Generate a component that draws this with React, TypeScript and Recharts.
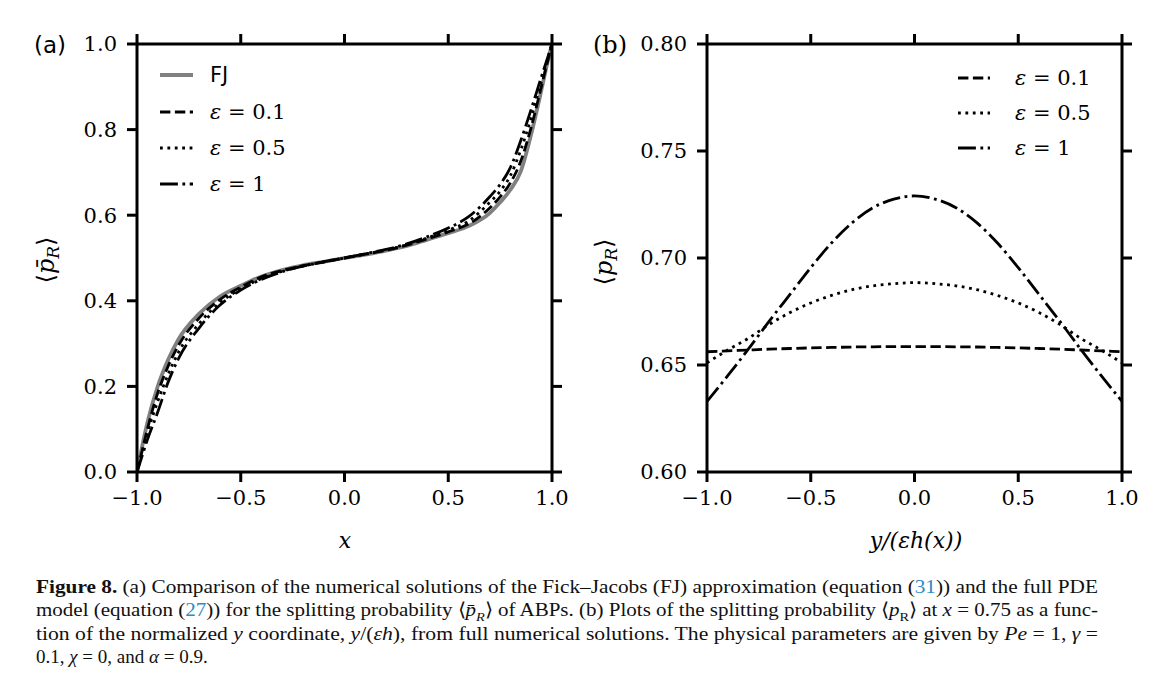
import { LineChart, Line, XAxis, YAxis, Legend } from "recharts";

// panel (a): splitting probability vs x
const xA = [-1, -0.975, -0.95, -0.9, -0.85, -0.8, -0.7, -0.6, -0.5, -0.4, -0.3, -0.2, -0.1, 0, 0.1, 0.2, 0.3, 0.4, 0.5, 0.6, 0.7, 0.75, 0.8, 0.85, 0.9, 0.95, 0.975, 1];
const fjA = [0, 0.06, 0.115, 0.2, 0.262, 0.31, 0.37, 0.41, 0.435, 0.457, 0.472, 0.483, 0.491, 0.5, 0.508, 0.517, 0.528, 0.543, 0.558, 0.575, 0.605, 0.63, 0.66, 0.703, 0.79, 0.895, 0.95, 1];
const eps01A = [0, 0.05, 0.1, 0.185, 0.247, 0.296, 0.36, 0.403, 0.432, 0.456, 0.471, 0.482, 0.491, 0.5, 0.509, 0.518, 0.53, 0.545, 0.561, 0.58, 0.617, 0.643, 0.676, 0.727, 0.806, 0.903, 0.952, 1];
const eps05A = [0, 0.045, 0.09, 0.165, 0.228, 0.28, 0.347, 0.396, 0.428, 0.452, 0.469, 0.481, 0.491, 0.5, 0.509, 0.519, 0.531, 0.547, 0.565, 0.587, 0.63, 0.656, 0.693, 0.753, 0.828, 0.915, 0.958, 1];
const eps1A = [0, 0.038, 0.075, 0.14, 0.21, 0.265, 0.337, 0.39, 0.425, 0.45, 0.468, 0.481, 0.491, 0.5, 0.51, 0.52, 0.533, 0.55, 0.57, 0.597, 0.643, 0.672, 0.712, 0.775, 0.848, 0.925, 0.962, 1];

// panel (b): profile across the channel at x = 0.75
const xB = [-1, -0.9, -0.8, -0.7, -0.6, -0.5, -0.4, -0.3, -0.2, -0.1, 0, 0.1, 0.2, 0.3, 0.4, 0.5, 0.6, 0.7, 0.8, 0.9, 1];
const eps01B = [0.6562, 0.6566, 0.657, 0.6574, 0.6577, 0.658, 0.6582, 0.6584, 0.6585, 0.6586, 0.6586, 0.6586, 0.6585, 0.6584, 0.6582, 0.658, 0.6577, 0.6574, 0.657, 0.6566, 0.6562];
const eps05B = [0.651, 0.657, 0.6625, 0.669, 0.6745, 0.679, 0.6825, 0.6852, 0.687, 0.688, 0.6885, 0.688, 0.687, 0.6852, 0.6825, 0.679, 0.6745, 0.669, 0.6625, 0.657, 0.651];
const eps1B = [0.633, 0.645, 0.6575, 0.6705, 0.683, 0.6955, 0.707, 0.7165, 0.7235, 0.7275, 0.729, 0.7275, 0.7235, 0.7165, 0.707, 0.6955, 0.683, 0.6705, 0.6575, 0.645, 0.633];

const xTicks = [-1, -0.5, 0, 0.5, 1];
const yTicksA = [0, 0.2, 0.4, 0.6, 0.8, 1];
const yTicksB = [0.6, 0.65, 0.7, 0.75, 0.8];

const dataA = xA.map((x, i) => ({ x, fj: fjA[i], e01: eps01A[i], e05: eps05A[i], e1: eps1A[i] }));
const dataB = xB.map((x, i) => ({ x, e01: eps01B[i], e05: eps05B[i], e1: eps1B[i] }));

const SERIF = "'DejaVu Serif', serif";
const SANS = "'DejaVu Sans', sans-serif";
const CAPTION = "'Liberation Serif', serif";
const LINK = "#2b8cc4";

const STYLE: Record<string, { stroke: string; width: number; dash?: string }> = {
  fj: { stroke: "#808080", width: 3.8 },
  e01: { stroke: "#000", width: 2.8, dash: "10.4 4.5" },
  e05: { stroke: "#000", width: 2.8, dash: "2.8 4.6" },
  e1: { stroke: "#000", width: 2.8, dash: "17.9 4.5 2.8 4.5" },
};

const axisLine = { stroke: "#000", strokeWidth: 3 };
const tickLine = { stroke: "#000", strokeWidth: 3 };
const tickStyle = { fill: "#000", fontSize: 21, fontFamily: SERIF };
const fmt1 = (v: number) => (v < 0 ? "\u2212" : "") + Math.abs(v).toFixed(1);
const fmt2 = (v: number) => v.toFixed(2);
const noLabel = () => <g />;

function EpsLabel({ x, y, v }: { x: number; y: number; v: string }) {
  return (
    <text x={x} y={y} dominantBaseline="central" fontFamily={SERIF} fontSize={21} fill="#000">
      <tspan fontStyle="italic">ε</tspan>
      <tspan> = {v}</tspan>
    </text>
  );
}

function Sample({ k, x0, x1, y }: { k: string; x0: number; x1: number; y: number }) {
  const s = STYLE[k];
  return <line x1={x0} x2={x1} y1={y} y2={y} stroke={s.stroke} strokeWidth={s.width} strokeDasharray={s.dash} />;
}

function LegendA() {
  const rows = [
    { k: "fj", y: 20 },
    { k: "e01", y: 57, v: "0.1" },
    { k: "e05", y: 93, v: "0.5" },
    { k: "e1", y: 129, v: "1" },
  ];
  return (
    <svg width={240} height={150}>
      {rows.map((r) => (
        <g key={r.k}>
          <Sample k={r.k} x0={10} x1={43} y={r.y} />
          {r.k === "fj" ? (
            <text x={60} y={r.y} dominantBaseline="central" fontFamily={SANS} fontSize={21} fill="#000">FJ</text>
          ) : (
            <EpsLabel x={60} y={r.y} v={r.v as string} />
          )}
        </g>
      ))}
    </svg>
  );
}

function LegendB() {
  const rows = [
    { k: "e01", y: 20, v: "0.1" },
    { k: "e05", y: 55, v: "0.5" },
    { k: "e1", y: 90, v: "1" },
  ];
  return (
    <svg width={240} height={120}>
      {rows.map((r) => (
        <g key={r.k}>
          <Sample k={r.k} x0={8} x1={40} y={r.y} />
          <EpsLabel x={65} y={r.y} v={r.v} />
        </g>
      ))}
    </svg>
  );
}

function Panel({
  left,
  data,
  keys,
  yDomain,
  yTicks,
  yFmt,
  legend,
}: {
  left: number;
  data: any[];
  keys: string[];
  yDomain: [number, number];
  yTicks: number[];
  yFmt: (v: number) => string;
  legend: { el: JSX.Element; left: number; top: number; h: number };
}) {
  return (
    <LineChart
      width={600}
      height={560}
      data={data}
      margin={{ top: 34, right: 38, bottom: 48, left: 77 }}
      style={{ position: "absolute", left, top: 0 }}
    >
      <XAxis xAxisId="b" dataKey="x" type="number" domain={[-1, 1]} ticks={xTicks} tickFormatter={fmt1} allowDataOverflow
        height={40} tickSize={10} tickMargin={8} axisLine={axisLine} tickLine={tickLine} tick={tickStyle} />
      <XAxis xAxisId="t" dataKey="x" orientation="top" type="number" domain={[-1, 1]} ticks={xTicks} allowDataOverflow
        height={10} tickSize={10} axisLine={axisLine} tickLine={tickLine} tick={noLabel} />
      <YAxis yAxisId="l" type="number" domain={yDomain} ticks={yTicks} tickFormatter={yFmt} allowDataOverflow
        width={60} tickSize={10} tickMargin={10} axisLine={axisLine} tickLine={tickLine} tick={tickStyle} />
      <YAxis yAxisId="r" orientation="right" type="number" domain={yDomain} ticks={yTicks} allowDataOverflow
        width={10} tickSize={10} axisLine={axisLine} tickLine={tickLine} tick={noLabel} />
      {keys.map((k) => (
        <Line key={k} xAxisId="b" yAxisId="l" dataKey={k} type="monotone" dot={false}
          stroke={STYLE[k].stroke} strokeWidth={STYLE[k].width} strokeDasharray={STYLE[k].dash}
          isAnimationActive={false} />
      ))}
      {/* carrier for the mirrored top/right frame axes, draws nothing */}
      <Line xAxisId="t" yAxisId="r" dataKey={keys[0]} stroke="none" dot={false} activeDot={false}
        legendType="none" isAnimationActive={false} />
      <Legend layout="vertical" align="center" verticalAlign="middle" width={240} height={legend.h}
        wrapperStyle={{ left: legend.left, top: legend.top, width: 240, height: legend.h }}
        content={() => legend.el} />
    </LineChart>
  );
}

export default function App() {
  return (
    <div style={{ position: "relative", width: 1170, height: 697, margin: -8, background: "#fff", overflow: "hidden" }}>
      <div style={{ position: "absolute", left: 3, top: 3, width: 1162, height: 689, border: "2px solid #cdcdcd" }} />
      <Panel left={0} data={dataA} keys={["fj", "e01", "e05", "e1"]} yDomain={[0, 1]} yTicks={yTicksA} yFmt={fmt1}
        legend={{ el: <LegendA />, left: 150, top: 55, h: 150 }} />
      <Panel left={570} data={dataB} keys={["e01", "e05", "e1"]} yDomain={[0.6, 0.8]} yTicks={yTicksB} yFmt={fmt2}
        legend={{ el: <LegendB />, left: 380, top: 58, h: 120 }} />
      <svg width={1170} height={697} style={{ position: "absolute", left: 0, top: 0, pointerEvents: "none" }}>
        <text x={34} y={53} fontFamily={SANS} fontSize={23} fill="#000">(a)</text>
        <text x={593} y={53} fontFamily={SERIF} fontSize={24} fill="#000">(b)</text>
        <text x={345} y={548} textAnchor="middle" fontFamily={SERIF} fontStyle="italic" fontSize={22} fill="#000">x</text>
        <text x={916} y={548} textAnchor="middle" fontFamily={SERIF} fontStyle="italic" fontSize={22} fill="#000">y/(εh(x))</text>
        <text transform="rotate(-90 54 260)" x={54} y={260} textAnchor="middle" fontFamily={SERIF} fontSize={24} fill="#000">
          ⟨<tspan fontStyle="italic">p̄</tspan><tspan fontStyle="italic" dy={5} fontSize={17}>R</tspan><tspan dy={-5}>⟩</tspan>
        </text>
        <text transform="rotate(-90 612 262)" x={612} y={262} textAnchor="middle" fontFamily={SERIF} fontSize={24} fill="#000">
          ⟨<tspan fontStyle="italic">p</tspan><tspan fontStyle="italic" dy={5} fontSize={17}>R</tspan><tspan dy={-5}>⟩</tspan>
        </text>

        <g fontFamily={CAPTION} fontSize={19} fill="#111">
          <text x={36} y={593} textLength={1062} lengthAdjust="spacingAndGlyphs">
            <tspan fontWeight="bold">Figure 8.</tspan> (a) Comparison of the numerical solutions of the Fick–Jacobs (FJ) approximation (equation (<tspan fill={LINK}>31</tspan>)) and the full PDE
          </text>
          <text x={36} y={616} textLength={1062} lengthAdjust="spacingAndGlyphs">
            model (equation (<tspan fill={LINK}>27</tspan>)) for the splitting probability ⟨<tspan fontStyle="italic">p̄</tspan>
            <tspan dy={5} fontSize={13} fontStyle="italic">R</tspan>
            <tspan dy={-5}>⟩ of ABPs. (b) Plots of the splitting probability ⟨</tspan>
            <tspan fontStyle="italic">p</tspan>
            <tspan dy={5} fontSize={13}>R</tspan>
            <tspan dy={-5}>⟩ at </tspan>
            <tspan fontStyle="italic">x</tspan> = 0.75 as a func-
          </text>
          <text x={36} y={640} textLength={1062} lengthAdjust="spacingAndGlyphs">
            tion of the normalized <tspan fontStyle="italic">y</tspan> coordinate, <tspan fontStyle="italic">y</tspan>/(<tspan fontStyle="italic">εh</tspan>), from full numerical solutions. The physical parameters are given by <tspan fontStyle="italic">Pe</tspan> = 1, <tspan fontStyle="italic">γ</tspan> =
          </text>
          <text x={36} y={663}>
            0.1, <tspan fontStyle="italic">χ</tspan> = 0, and <tspan fontStyle="italic">α</tspan> = 0.9.
          </text>
        </g>
      </svg>
    </div>
  );
}
